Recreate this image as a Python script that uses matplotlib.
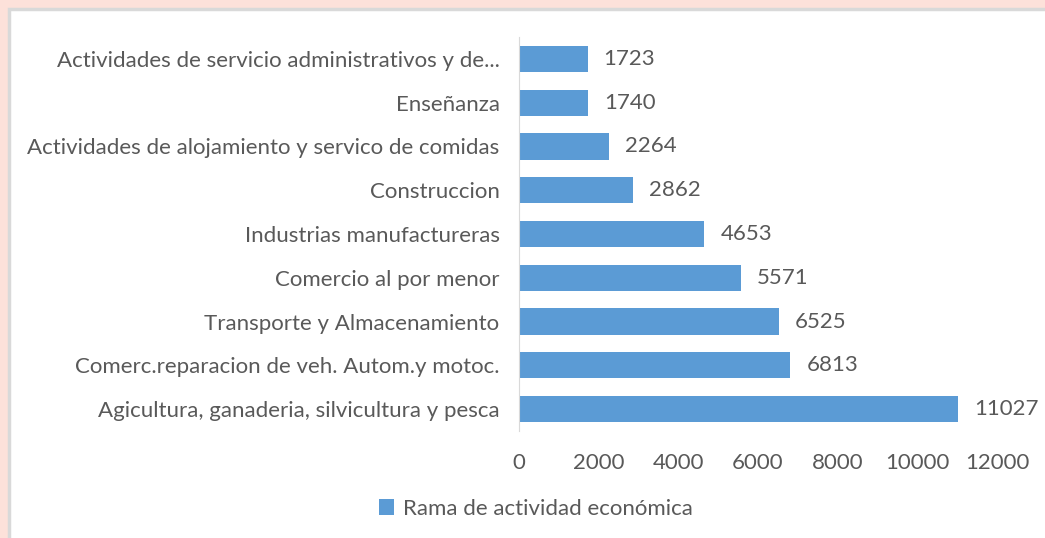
import matplotlib.pyplot as plt
from matplotlib.patches import Rectangle

# Data (bottom to top)
ramas = ['Agicultura, ganaderia, silvicultura y pesca',
         'Comerc.reparacion de veh. Autom.y motoc.',
         'Transporte y Almacenamiento',
         'Comercio al por menor',
         'Industrias manufactureras',
         'Construccion',
         'Actividades de alojamiento y servico de comidas',
         'Enseñanza',
         'Actividades de servicio administrativos y de...']
valores = [11027, 6813, 6525, 5571, 4653, 2862, 2264, 1740, 1723]
serie = 'Rama de actividad económica'

plt.rcParams['font.family'] = ['Lato', 'DejaVu Sans']
gris = '#595959'
azul = '#5b9bd5'
fs = 16

fig = plt.figure(figsize=(10.45, 5.38), dpi=100)
fig.patch.set_facecolor('#fde1da')
# white chart area with thin gray border
fig.patches.append(Rectangle((9 / 1045, -0.01), 1.0, 1.01 - 9 / 538, transform=fig.transFigure,
                             facecolor='white', edgecolor='#d9d9d9', linewidth=2.5, zorder=-10))

ax = fig.add_axes([519 / 1045, 1 - 431 / 538, (997 - 519) / 1045, (431 - 37) / 538])
ax.set_facecolor('none')
ax.set_zorder(5)

bars = ax.barh(range(len(ramas)), valores, height=0.6, color=azul, label=serie)
for b, v in zip(bars, valores):
    ax.text(b.get_width() + 400, b.get_y() + b.get_height() / 2, str(v),
            va='center', ha='left', fontsize=fs, color=gris)

ax.set_xlim(0, 12000)
ax.set_ylim(-0.5, len(ramas) - 0.5)
ax.set_xticks(range(0, 12001, 2000))
ax.set_yticks(range(len(ramas)))
ax.set_yticklabels(ramas)
ax.tick_params(length=0, labelsize=fs, colors=gris)
ax.tick_params(axis='x', pad=16)
ax.tick_params(axis='y', pad=14)
for s in ['top', 'right', 'bottom']:
    ax.spines[s].set_visible(False)
ax.spines['left'].set_color('#d9d9d9')

fig.legend(loc='center', bbox_to_anchor=(536 / 1045, 1 - 509 / 538), frameon=False,
           fontsize=fs, labelcolor=gris, handlelength=0.7, handleheight=0.7,
           handletextpad=0.4)

fig.savefig('out.png', dpi=100, facecolor=fig.get_facecolor())
